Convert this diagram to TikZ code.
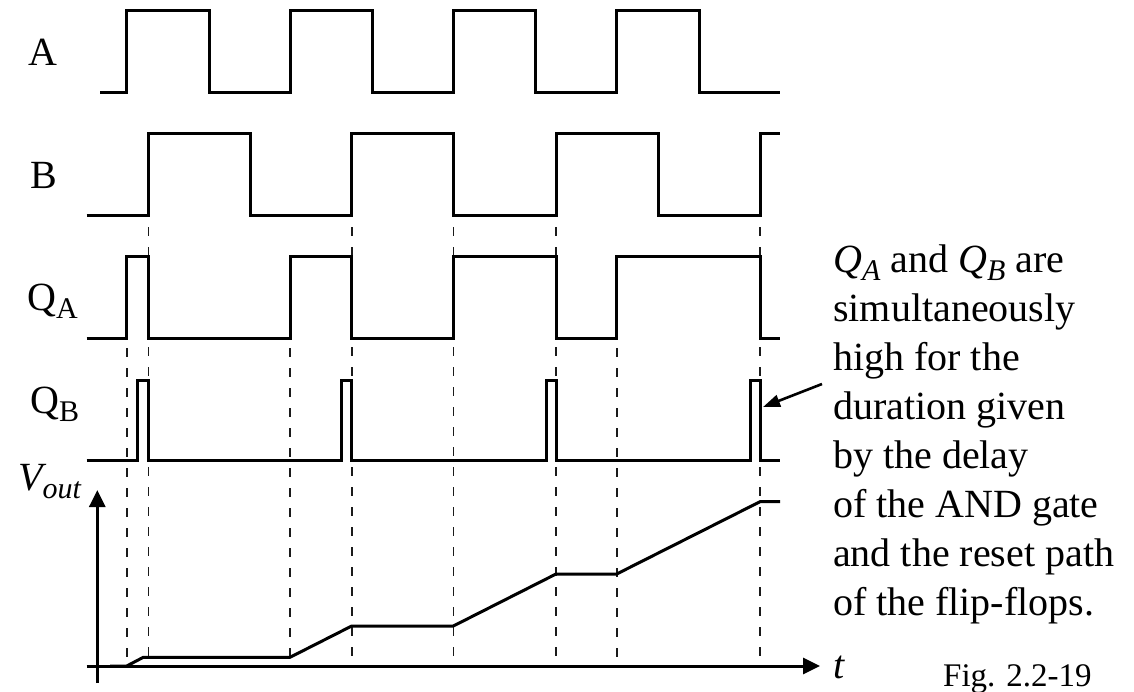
\documentclass[tikz,border=0pt]{standalone}
\usepackage{fontspec}
\setmainfont{Liberation Serif}
\usepackage{xcolor}
\definecolor{cInk}{HTML}{000000}
\definecolor{cGuide}{HTML}{1A1A1A}
\usepackage{tikz}
\usetikzlibrary{arrows.meta,positioning}
\newcommand{\lowsub}[1]{\raisebox{-0.2em}{\fontsize{30}{30}\selectfont #1}}
\tikzset{
  sig-line/.style={draw=cInk,line width=3pt},
  guide-line/.style={draw=cGuide,line width=1.6pt,dash pattern=on 9pt off 11pt},
  axis-arrow/.style={-{Triangle[length=17pt,width=16pt]},line width=3pt,draw=cInk},
  note-arrow/.style={-{Triangle[length=17pt,width=12pt]},line width=2.6pt,draw=cInk},
  sig-label/.style={anchor=base west,inner sep=0pt,font=\fontsize{40}{49}\selectfont},
  note-text/.style={anchor=north west,inner sep=0pt,align=left,
    font=\fontsize{40}{49}\selectfont},
}

\begin{document}
\begin{tikzpicture}[x=1pt,y=-1pt]
  \useasboundingbox (0,0) rectangle (1134,691);
  % signal names
  \node[sig-label] (lbl-a) at (28,65) {A};
  \node[sig-label] (lbl-b) at (30,188) {B};
  \node[sig-label] (lbl-qa) at (27,310) {Q\lowsub{A}};
  \node[sig-label] (lbl-qb) at (30,413) {Q\lowsub{B}};
  \node[sig-label] (lbl-vout) at (18,490) {\textit{V\lowsub{out}}};
  \node[sig-label] (lbl-t) at (833,678) {\textit{t}};
  \node[anchor=base west,inner sep=0pt,font=\fontsize{33}{40}\selectfont]
    (fig) at (943,686) {Fig. 2.2-19};
  % guide lines at the edges
  \foreach \x in {148.3,351.7,453.3,556,760}
    \draw[guide-line] (\x,227) -- (\x,668);
  \foreach \x in {126.7,290,616.7}
    \draw[guide-line] (\x,348) -- (\x,668);
  % waveforms
  \draw[sig-line] (100,92) -| (126.7,10) -| (209,92) -| (290,10) -| (372.3,92)
    -| (453.3,10) -| (535.7,92) -| (616.7,10) -| (699,92) -- (780,92);
  \draw[sig-line] (86.7,215) -| (148.3,133.3) -| (250,215) -| (351.7,133.3)
    -| (453.3,215) -| (556,133.3) -| (658.3,215) -| (760,133.3) -- (780,133.3);
  \draw[sig-line] (86.7,338.3) -| (126.7,256.7) -| (148.3,338.3) -| (290,256.7)
    -| (351.7,338.3) -| (453.3,256.7) -| (556,338.3) -| (616.7,256.7)
    -| (760,338.3) -- (780,338.3);
  \draw[sig-line] (86.7,460) -| (137.5,380) -| (148.3,460) -| (341.7,380)
    -| (351.7,460) -| (546,380) -| (556,460) -| (750,380) -| (760,460)
    -- (780,460);
  % output voltage
  \draw[axis-arrow] (86.7,666) -- (820,666);
  \draw[axis-arrow] (97.3,683) -- (97.3,490);
  \draw[sig-line] (110,666) -- (126.7,666) -- (143.3,657.3) -- (290,657.3)
    -- (351.7,626) -- (453.3,626) -- (556,574) -- (616.7,574)
    -- (760,501.7) -- (780,501.7);
  % annotation
  \node[note-text] (note) at (833,245) {\textit{Q\lowsub{A}} and
    \textit{Q\lowsub{B}} are\\simultaneously\\high for the\\duration given\\by the delay\\of the AND gate\\and the reset path\\of the flip-flops.};
  \coordinate (note-tail) at (822,384);
  \coordinate (pulse) at (763,407);
  \draw[note-arrow] (note-tail) -- (pulse);
\end{tikzpicture}
\end{document}
